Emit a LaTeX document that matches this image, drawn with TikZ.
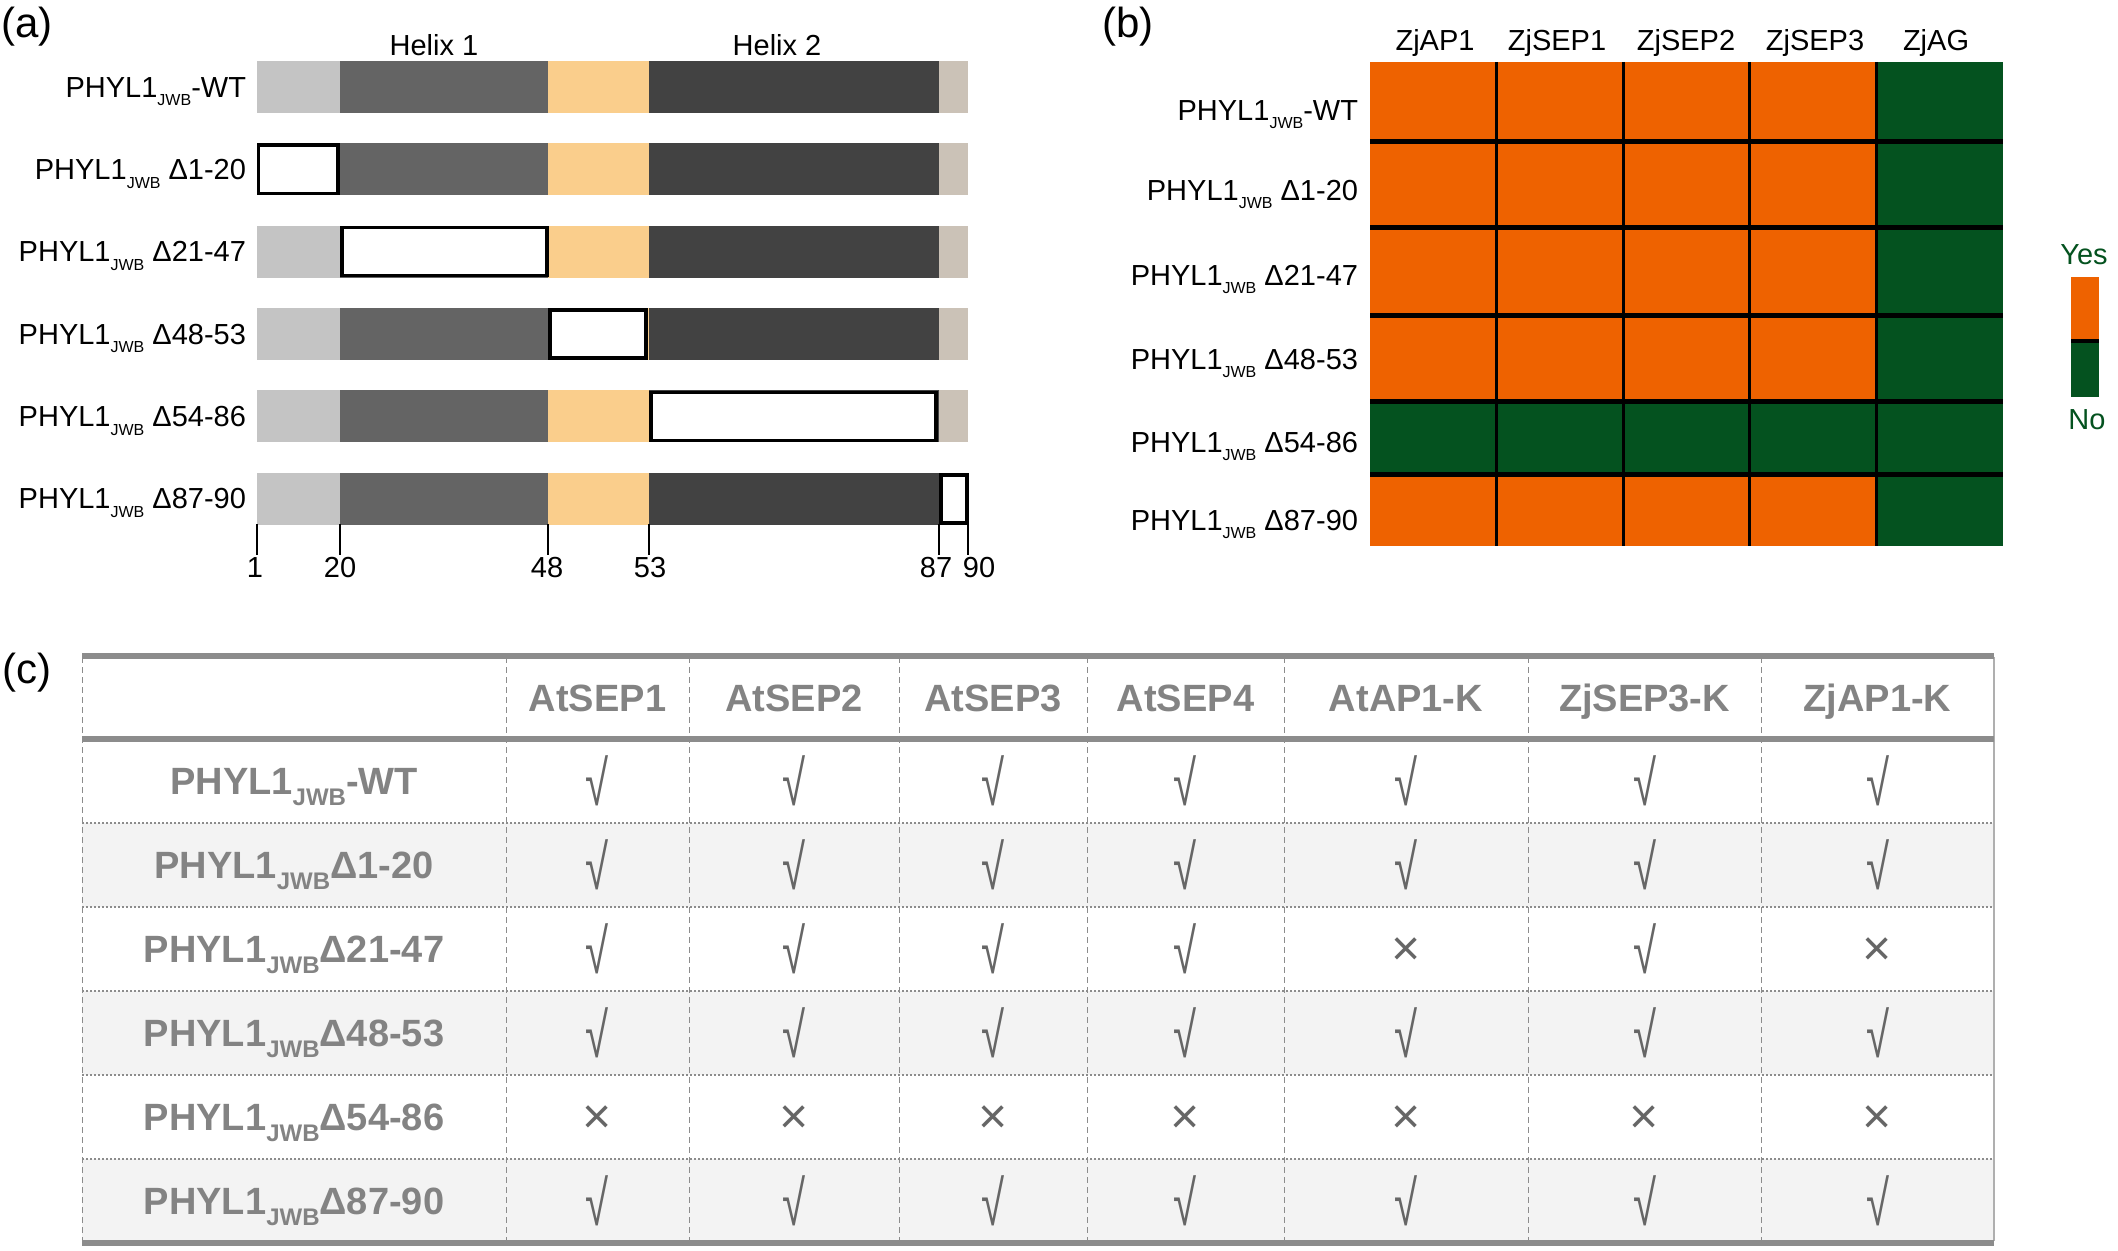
\documentclass[tikz,border=0pt]{standalone}
\usepackage{fontspec}
\setmainfont{Liberation Sans}
\definecolor{lg}{HTML}{C4C4C4}
\definecolor{mg}{HTML}{646464}
\definecolor{pe}{HTML}{FACE8C}
\definecolor{dg}{HTML}{424242}
\definecolor{tn}{HTML}{CBC2B7}
\definecolor{orng}{HTML}{EE6200}
\definecolor{grn}{HTML}{04521F}
\definecolor{tgray}{HTML}{838383}
\definecolor{markc}{HTML}{666666}
\definecolor{rowshade}{HTML}{F3F3F3}
\definecolor{rulec}{HTML}{8C8C8C}
\newcommand\jwb[1]{\raisebox{-0.55ex}{\fontsize{#1}{#1}\selectfont JWB}}
\newcommand\albl[1]{\fontsize{14.5}{16}\selectfont PHYL1\jwb{8}#1}
\newcommand\clbl[1]{\fontsize{19}{21}\selectfont\bfseries PHYL1\jwb{12}#1}
\tikzset{
  panlbl/.style={font=\fontsize{21}{23}\selectfont, anchor=center},
  smalltxt/.style={font=\fontsize{14.5}{16}\selectfont},
  delbox/.style={draw=black, fill=white, line width=1.6pt},
  tickln/.style={draw=black, line width=0.8pt},
  vgrid/.style={draw=black, line width=1.5pt},
  hgrid/.style={draw=black, line width=2.5pt},
  hdr/.style={font=\fontsize{19}{21}\selectfont\bfseries, text=tgray, anchor=base},
  rowlbl/.style={text=tgray, anchor=base},
  yesmark/.style={font=\fontsize{21}{22}\selectfont, text=markc},
  nomark/.style={font=\fontsize{25}{26}\selectfont, text=markc},
  thickrule/.style={draw=rulec, line width=3pt},
  dashv/.style={draw=rulec, line width=0.5pt, dash pattern=on 3pt off 2pt},
  doth/.style={draw=rulec, line width=0.7pt, dash pattern=on 1pt off 1pt},
}
\begin{document}
\begin{tikzpicture}[x=0.5pt,y=-0.5pt, every node/.style={inner sep=0pt, outer sep=0pt}]
\useasboundingbox (0,0) rectangle (2118,1251);
\fill[white] (0,0) rectangle (2118,1251);

% ---------------- panel (a)
\node[panlbl] (la) at (27,27) {(a)};
\node[smalltxt] (h1) at (434,45) {Helix 1};
\node[smalltxt] (h2) at (777,45) {Helix 2};
\foreach \i in {0,...,5} {
  \pgfmathsetmacro\t{61+82.3*\i}
  \fill[lg] (257,\t) rectangle (340,\t+52);
  \fill[mg] (340,\t) rectangle (548,\t+52);
  \fill[pe] (548,\t) rectangle (649,\t+52);
  \fill[dg] (649,\t) rectangle (939,\t+52);
  \fill[tn] (939,\t) rectangle (968,\t+52);
}
\draw[delbox] (258.5,145) rectangle (338,193.5);
\draw[delbox] (342,227.5) rectangle (547,275.5);
\draw[delbox] (550,310) rectangle (646,358);
\draw[delbox] (651,392.5) rectangle (936,440.5);
\draw[delbox] (941,475) rectangle (967,523);
\node[anchor=base east] (a0) at (246,97.4) {\albl{-WT}};
\node[anchor=base east] (a1) at (246,179.7) {\albl{ Δ1-20}};
\node[anchor=base east] (a2) at (246,262) {\albl{ Δ21-47}};
\node[anchor=base east] (a3) at (246,344.3) {\albl{ Δ48-53}};
\node[anchor=base east] (a4) at (246,426.6) {\albl{ Δ54-86}};
\node[anchor=base east] (a5) at (246,508.9) {\albl{ Δ87-90}};
\foreach \x in {257,340,548,649,939,968} {
  \draw[tickln] (\x,524) -- (\x,555);
}
\node[smalltxt] (n1) at (255,568) {1};
\node[smalltxt] (n20) at (340,568) {20};
\node[smalltxt] (n48) at (547,568) {48};
\node[smalltxt] (n53) at (650,568) {53};
\node[smalltxt] (n87) at (936,568) {87};
\node[smalltxt] (n90) at (979,568) {90};

% ---------------- panel (b)
\node[panlbl] (lb) at (1128,27) {(b)};
\foreach \xa/\xb in {1370/1496.6,1496.6/1623.2,1623.2/1749.8,1749.8/1876.4} {
  \fill[orng] (\xa,62) rectangle (\xb,401);
  \fill[grn] (\xa,401) rectangle (\xb,474);
  \fill[orng] (\xa,474) rectangle (\xb,546);
}
\fill[grn] (1876.4,62) rectangle (2003,546);
\foreach \x in {1496.6,1623.2,1749.8,1876.4} { \draw[vgrid] (\x,62) -- (\x,546); }
\foreach \y in {142,228,316,401,474} { \draw[hgrid] (1370,\y) -- (2003,\y); }
\node[smalltxt] (c1) at (1435,43) {ZjAP1};
\node[smalltxt] (c2) at (1557,43) {ZjSEP1};
\node[smalltxt] (c3) at (1686,43) {ZjSEP2};
\node[smalltxt] (c4) at (1815,43) {ZjSEP3};
\node[smalltxt] (c5) at (1936,43) {ZjAG};
\node[anchor=base east] (b0) at (1358,120.4) {\albl{-WT}};
\node[anchor=base east] (b1) at (1358,200.4) {\albl{ Δ1-20}};
\node[anchor=base east] (b2) at (1358,285.4) {\albl{ Δ21-47}};
\node[anchor=base east] (b3) at (1358,369.4) {\albl{ Δ48-53}};
\node[anchor=base east] (b4) at (1358,452.4) {\albl{ Δ54-86}};
\node[anchor=base east] (b5) at (1358,530.4) {\albl{ Δ87-90}};
% legend
\fill[orng] (2071,277) rectangle (2099,339);
\fill[black] (2071,339) rectangle (2099,343);
\fill[grn] (2071,343) rectangle (2099,397);
\node[smalltxt, text=grn] (yes) at (2084,255) {Yes};
\node[smalltxt, text=grn] (no) at (2087,420) {No};

% ---------------- panel (c)
\node[panlbl] (lc) at (27,673) {(c)};
\foreach \ya/\yb in {823/907,991/1075,1159/1243} { \fill[rowshade] (82,\ya) rectangle (1994,\yb); }
\foreach \y in {823,907,991,1075,1159} { \draw[doth] (82,\y) -- (1994,\y); }
\foreach \x in {82,506,689,899,1087,1284,1528,1761} { \draw[dashv] (\x,657) -- (\x,1241); }
\draw[draw=rulec!70, line width=0.6pt] (1994,657) -- (1994,1241);
\draw[thickrule] (82,656) -- (1994,656);
\draw[thickrule] (82,739) -- (1994,739);
\draw[thickrule] (82,1243) -- (1994,1243);
\node[hdr] (t1) at (597.5,711.5) {AtSEP1};
\node[hdr] (t2) at (794,711.5) {AtSEP2};
\node[hdr] (t3) at (993,711.5) {AtSEP3};
\node[hdr] (t4) at (1185.5,711.5) {AtSEP4};
\node[hdr] (t5) at (1406,711.5) {AtAP1-K};
\node[hdr] (t6) at (1644.5,711.5) {ZjSEP3-K};
\node[hdr] (t7) at (1877.5,711.5) {ZjAP1-K};
\node[rowlbl] (r0) at (294,794.5) {\clbl{-WT}};
\node[rowlbl] (r1) at (294,878.5) {\clbl{Δ1-20}};
\node[rowlbl] (r2) at (294,962.5) {\clbl{Δ21-47}};
\node[rowlbl] (r3) at (294,1046.5) {\clbl{Δ48-53}};
\node[rowlbl] (r4) at (294,1130.5) {\clbl{Δ54-86}};
\node[rowlbl] (r5) at (294,1214.5) {\clbl{Δ87-90}};
\foreach \r/\vals in {0/{1,1,1,1,1,1,1},1/{1,1,1,1,1,1,1},2/{1,1,1,1,0,1,0},3/{1,1,1,1,1,1,1},4/{0,0,0,0,0,0,0},5/{1,1,1,1,1,1,1}} {
  \foreach \v [count=\k from 0] in \vals {
    \pgfmathsetmacro\cx{{597.5,794,993,1185.5,1406,1644.5,1877.5}[\k]}
    \pgfmathsetmacro\cy{781+84*\r}
    \ifnum\v=1
      \node[yesmark] (m\r\k) at (\cx,\cy) {\scalebox{1}[1.5]{√}};
    \else
      \node[nomark] (m\r\k) at (\cx,\cy+3) {×};
    \fi
  }
}
\end{tikzpicture}
\end{document}
